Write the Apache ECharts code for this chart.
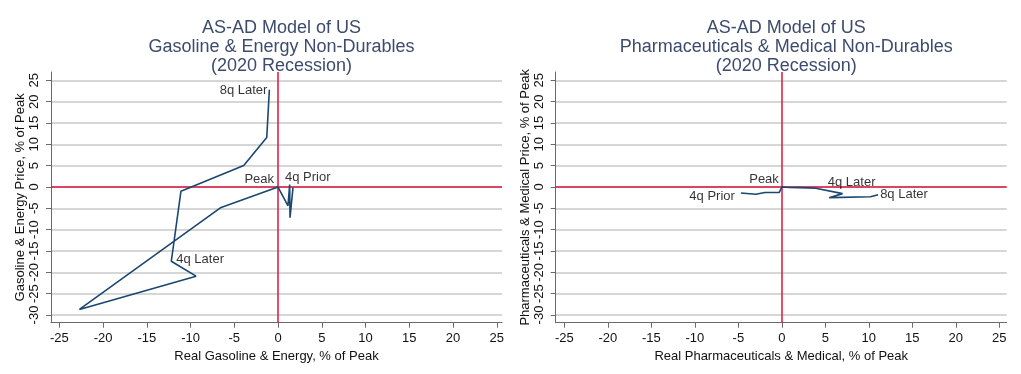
<!DOCTYPE html>
<html>
<head>
<meta charset="utf-8">
<script src="https://cdn.jsdelivr.net/npm/echarts@6/dist/echarts.min.js"></script>
<style>
html,body{margin:0;padding:0;background:#fff;}
#c{width:1021px;height:374px;}
</style>
</head>
<body>
<div id="c"></div>
<script>
// ---- data ----
const xTicks = [-25, -20, -15, -10, -5, 0, 5, 10, 15, 20, 25];
const yTicks = [-30, -25, -20, -15, -10, -5, 0, 5, 10, 15, 20, 25];

const pointLabels = ['4q Prior', '', '', '', 'Peak', '', '', '', '4q Later', '', '', '', '8q Later'];

const gasX = [1.71, 1.37, 1.33, 1.14, 0, -6.51, -22.7, -9.37, -12.2, -11.1, -3.92, -1.29, -0.99];
const gasY = [-0.15, -7.2, 0.6, -4.4, 0, -4.78, -28.7, -20.9, -17.4, -1.0, 5.06, 11.6, 22.8];

const medX = [-4.71, -2.99, -1.95, -0.3, 0, 0.9, 2.0, 3.0, 3.9, 6.97, 5.44, 10.2, 11.07];
const medY = [-1.4, -1.7, -1.3, -1.25, 0, -0.1, -0.15, -0.2, -0.3, -1.55, -2.5, -2.3, -1.8];

const titles = [
  'AS-AD Model of US\nGasoline & Energy Non-Durables\n(2020 Recession)',
  'AS-AD Model of US\nPharmaceuticals & Medical Non-Durables\n(2020 Recession)'
];
const xNames = ['Real Gasoline & Energy, % of Peak', 'Real Pharmaceuticals & Medical, % of Peak'];
const yNames = ['Gasoline & Energy Price, % of Peak', 'Pharmaceuticals & Medical Price, % of Peak'];

// ---- styling / layout ----
const NAVY = '#1a476f';
const RED = '#dc143c';
const TITLE = '#3d4b6e';
const AXIS = '#6a6a6a';
const TEXT = '#111';
const FONT = 'Liberation Sans, Arial, sans-serif';

const labelPlacement = [
  { // gasoline
    '4q Prior': { position: 'right', offset: [-8, -10] },
    'Peak': { position: 'left', offset: [-4, -8] },
    '4q Later': { position: 'right', offset: [5, -2] },
    '8q Later': { position: 'left', offset: [-2, 1] }
  },
  { // medical
    '4q Prior': { position: 'left', offset: [-6, 3] },
    'Peak': { position: 'left', offset: [-3, -8] },
    '4q Later': { position: 'right', offset: [12, -6] },
    '8q Later': { position: 'right', offset: [2, 0] }
  }
];

const grids = [
  { left: 51, top: 72, width: 451, height: 250.7 },
  { left: 555.7, top: 72, width: 451, height: 250.7 }
];
const xRanges = [[-25.95, 25.6], [-26, 25.85]];
const yRange = [-31.8, 26.95];

function makeXAxis(i) {
  return {
    gridIndex: i, type: 'value', min: xRanges[i][0], max: xRanges[i][1],
    name: xNames[i], nameLocation: 'middle', nameGap: 21,
    nameTextStyle: { fontFamily: FONT, fontSize: 13, color: TEXT },
    splitLine: { show: false },
    axisLine: { show: true, onZero: false, lineStyle: { color: AXIS, width: 1 } },
    axisTick: { show: true, customValues: xTicks, length: 5, lineStyle: { color: AXIS } },
    axisLabel: { customValues: xTicks, fontFamily: FONT, fontSize: 13, color: TEXT, margin: 9 }
  };
}
function makeYAxis(i) {
  return {
    gridIndex: i, type: 'value', min: yRange[0], max: yRange[1],
    name: yNames[i], nameLocation: 'middle', nameGap: 24, nameRotate: 90,
    nameTextStyle: { fontFamily: FONT, fontSize: 13, color: TEXT },
    splitLine: { show: true, lineStyle: { color: '#c8c8c8', width: 1.5 } },
    axisLine: { show: true, onZero: false, lineStyle: { color: AXIS, width: 1 } },
    axisTick: { show: true, customValues: yTicks, length: 5, lineStyle: { color: AXIS } },
    axisLabel: { customValues: yTicks, rotate: 90, fontFamily: FONT, fontSize: 13, color: TEXT, margin: 10 }
  };
}

function lineSeries(i, xs, ys) {
  return {
    type: 'line', xAxisIndex: i, yAxisIndex: i, z: 5,
    data: xs.map((x, k) => [x, ys[k]]),
    showSymbol: false, symbol: 'none',
    lineStyle: { color: NAVY, width: 1.6 },
    animation: false
  };
}
function refSeries(i) {
  return {
    type: 'line', xAxisIndex: i, yAxisIndex: i, z: 3, data: [],
    markLine: {
      silent: true, symbol: 'none', animation: false,
      label: { show: false },
      lineStyle: { color: RED, width: 1.5, type: 'solid' },
      data: [{ xAxis: 0 }, { yAxis: 0 }]
    }
  };
}
function labelSeries(i, xs, ys) {
  const data = [];
  pointLabels.forEach((t, k) => {
    if (!t) return;
    const p = labelPlacement[i][t];
    data.push({
      value: [xs[k], ys[k]],
      label: { show: true, formatter: t, position: p.position, offset: p.offset, distance: 0, color: '#000' }
    });
  });
  return {
    type: 'scatter', xAxisIndex: i, yAxisIndex: i, z: 6,
    symbol: 'circle', symbolSize: 0, itemStyle: { color: 'rgba(0,0,0,0)' },
    label: { show: true, fontFamily: FONT, fontSize: 13, color: '#000' },
    data, animation: false, silent: true
  };
}

const chart = echarts.init(document.getElementById('c'), null, { renderer: 'canvas' });
chart.setOption({
  backgroundColor: '#fff',
  animation: false,
  title: titles.map((t, i) => ({
    text: t,
    left: grids[i].left + grids[i].width / 2,
    top: 14,
    textAlign: 'center',
    textStyle: { fontFamily: FONT, fontSize: 18, fontWeight: 'normal', color: TITLE, lineHeight: 19 }
  })),
  grid: grids,
  xAxis: [makeXAxis(0), makeXAxis(1)],
  yAxis: [makeYAxis(0), makeYAxis(1)],
  series: [
    refSeries(0), lineSeries(0, gasX, gasY), labelSeries(0, gasX, gasY),
    refSeries(1), lineSeries(1, medX, medY), labelSeries(1, medX, medY)
  ]
});
</script>
</body>
</html>
